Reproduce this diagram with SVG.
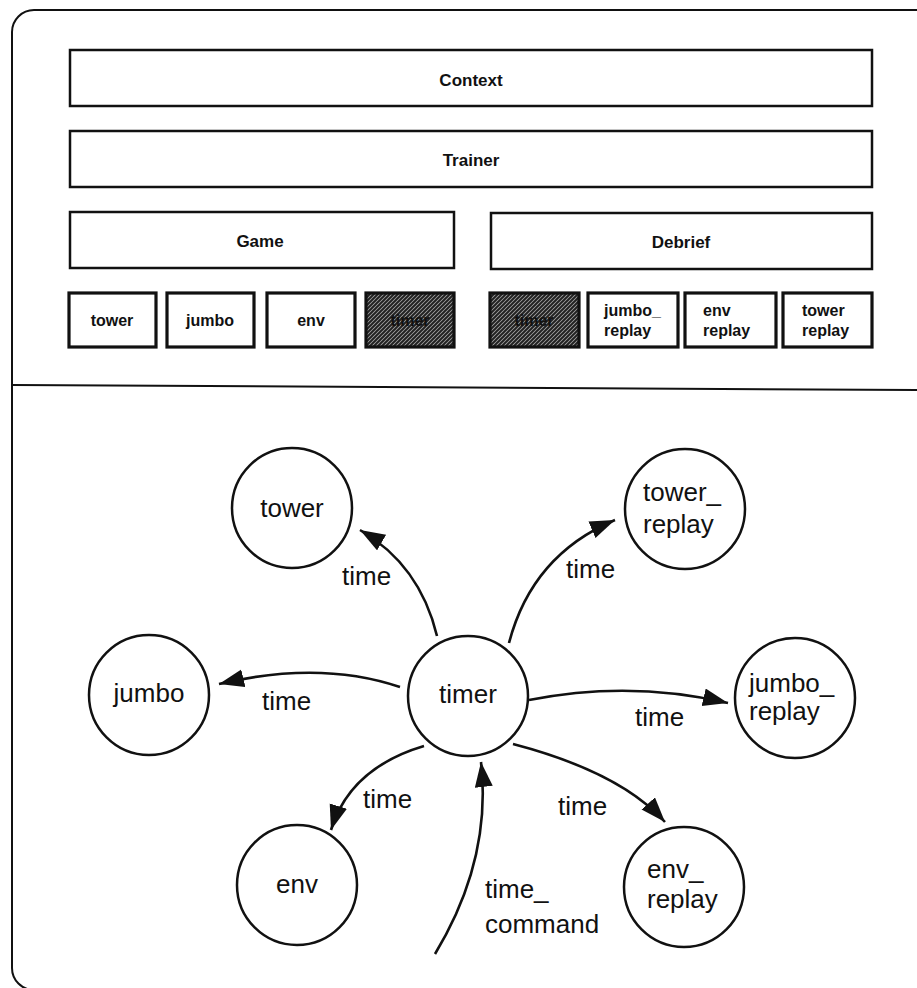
<svg xmlns="http://www.w3.org/2000/svg" width="917" height="988" viewBox="0 0 917 988">
  <style>
    .frame { fill: none; stroke: #111; stroke-width: 2; }
    .layer { fill: #fff; stroke: #111; stroke-width: 2.5; }
    .comp { fill: #fff; stroke: #111; stroke-width: 3.2; }
    .shaded { fill: url(#hatch); stroke: #111; stroke-width: 3.2; }
    .lbl { font-family: "Liberation Sans", Arial, sans-serif; font-weight: bold; fill: #111; }
    .big { font-size: 17px; }
    .small { font-size: 16px; }
    .proc { fill: #fff; stroke: #111; stroke-width: 2.5; }
    .txt { font-family: "Liberation Sans", Arial, sans-serif; font-size: 26px; fill: #111; }
    .flow { fill: none; stroke: #111; stroke-width: 2.6; marker-end: url(#head); }
  </style>
  <defs>
    <!-- dense diagonal shading for the shared timer component -->
    <pattern id="hatch" patternUnits="userSpaceOnUse" width="4" height="4">
      <rect width="4" height="4" fill="#aaa"/>
      <path d="M-1,1 L1,-1 M0,4 L4,0 M3,5 L5,3" stroke="#222" stroke-width="2"/>
    </pattern>
    <marker id="head" markerUnits="userSpaceOnUse" markerWidth="28" markerHeight="20" refX="25" refY="9" orient="auto">
      <path d="M0,0 L25,9 L0,18 Z" fill="#111"/>
    </marker>
  </defs>

  <!-- outer frame and divider -->
  <rect class="frame" x="12" y="10" width="930" height="980" rx="22"/>
  <line x1="13" y1="385" x2="917" y2="390" stroke="#111" stroke-width="2"/>

  <!-- layered architecture -->
  <g id="context"><rect class="layer" x="70" y="50" width="802" height="56"/><text class="lbl big" x="471" y="86" text-anchor="middle">Context</text></g>
  <g id="trainer"><rect class="layer" x="70" y="131" width="802" height="56"/><text class="lbl big" x="471" y="166" text-anchor="middle">Trainer</text></g>
  <g id="game"><rect class="layer" x="70" y="212" width="384" height="56"/><text class="lbl big" x="260" y="247" text-anchor="middle">Game</text></g>
  <g id="debrief"><rect class="layer" x="491" y="213" width="381" height="56"/><text class="lbl big" x="681" y="248" text-anchor="middle">Debrief</text></g>

  <g id="box-tower"><rect class="comp" x="69" y="293" width="87" height="54"/><text class="lbl small" x="112" y="326" text-anchor="middle">tower</text></g>
  <g id="box-jumbo"><rect class="comp" x="167" y="293" width="87" height="54"/><text class="lbl small" x="210" y="326" text-anchor="middle">jumbo</text></g>
  <g id="box-env"><rect class="comp" x="267" y="293" width="88" height="54"/><text class="lbl small" x="311" y="326" text-anchor="middle">env</text></g>
  <g id="box-timer-game"><rect class="shaded" x="366" y="293" width="88" height="54"/><text class="lbl small" x="410" y="326" text-anchor="middle" fill="#333">timer</text></g>
  <g id="box-timer-debrief"><rect class="shaded" x="490" y="293" width="89" height="54"/><text class="lbl small" x="534" y="326" text-anchor="middle" fill="#333">timer</text></g>
  <g id="box-jumbo-replay"><rect class="comp" x="588" y="293" width="90" height="54"/><text class="lbl small" x="604" y="316">jumbo_</text><text class="lbl small" x="604" y="336">replay</text></g>
  <g id="box-env-replay"><rect class="comp" x="685" y="293" width="91" height="54"/><text class="lbl small" x="703" y="316">env</text><text class="lbl small" x="703" y="336">replay</text></g>
  <g id="box-tower-replay"><rect class="comp" x="783" y="293" width="89" height="54"/><text class="lbl small" x="802" y="316">tower</text><text class="lbl small" x="802" y="336">replay</text></g>

  <!-- process diagram -->
  <g id="connectors">
    <path class="flow" d="M437,636 Q420,565 360,530"/>
    <path class="flow" d="M509,643 Q532,555 615,520"/>
    <path class="flow" d="M400,687 Q320,660 219,684"/>
    <path class="flow" d="M424,746 Q350,768 331,830"/>
    <path class="flow" d="M529,700 Q630,680 728,703"/>
    <path class="flow" d="M513,744 Q620,772 665,822"/>
    <path class="flow" d="M435,954 Q492,860 481,762"/>
    <text class="txt" x="342" y="585">time</text>
    <text class="txt" x="566" y="578">time</text>
    <text class="txt" x="262" y="710">time</text>
    <text class="txt" x="363" y="808">time</text>
    <text class="txt" x="635" y="726">time</text>
    <text class="txt" x="558" y="815">time</text>
    <text class="txt" x="485" y="898">time_</text>
    <text class="txt" x="485" y="933">command</text>
  </g>

  <g id="tower"><circle class="proc" cx="292" cy="508" r="60"/><text class="txt" x="292" y="517" text-anchor="middle">tower</text></g>
  <g id="tower_replay"><circle class="proc" cx="685" cy="509" r="60"/><text class="txt" x="643" y="501">tower_</text><text class="txt" x="643" y="533">replay</text></g>
  <g id="jumbo"><circle class="proc" cx="149" cy="695" r="60"/><text class="txt" x="149" y="702" text-anchor="middle">jumbo</text></g>
  <g id="timer"><circle class="proc" cx="468" cy="696" r="60"/><text class="txt" x="468" y="703" text-anchor="middle">timer</text></g>
  <g id="jumbo_replay"><circle class="proc" cx="795" cy="698" r="60"/><text class="txt" x="749" y="692">jumbo_</text><text class="txt" x="749" y="720">replay</text></g>
  <g id="env"><circle class="proc" cx="297" cy="885" r="60"/><text class="txt" x="297" y="893" text-anchor="middle">env</text></g>
  <g id="env_replay"><circle class="proc" cx="684" cy="887" r="60"/><text class="txt" x="647" y="878">env_</text><text class="txt" x="647" y="908">replay</text></g>
</svg>
